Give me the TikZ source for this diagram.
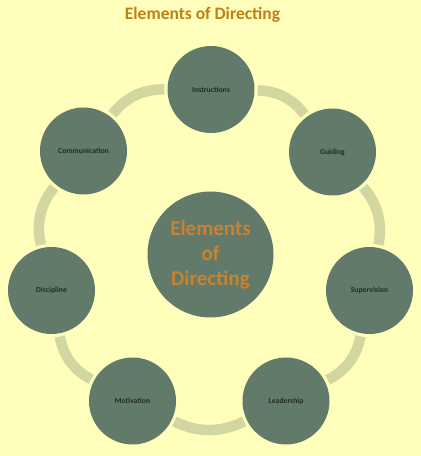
\documentclass[tikz,border=0pt]{standalone}
\usepackage{fontspec}
\setmainfont{Carlito}
\usepackage{xcolor}
\usepackage{tikz}
\usetikzlibrary{arrows.meta,positioning}
\definecolor{dirback}{HTML}{FFFFBB}
\definecolor{dirgreen}{HTML}{627A6A}
\definecolor{dirring}{HTML}{D2D7A2}
\definecolor{dirorange}{HTML}{C27E16}
\definecolor{dirtext}{HTML}{C88230}
\definecolor{dirlabel}{HTML}{222C26}
\tikzset{
  hubbox/.style={circle, fill=dirgreen, minimum size=126pt, inner sep=0pt, align=center, font=\fontsize{21}{25}\selectfont\bfseries, text=dirtext},
  elembox/.style={circle, fill=dirgreen, minimum size=87pt, inner sep=0pt, align=center, font=\fontsize{7.7}{9}\selectfont\bfseries, text=dirlabel},
  ring/.style={line width=10.5pt, draw=dirring, shorten <=3pt, shorten >=3pt, bend left=26}
}
\begin{document}
\begin{tikzpicture}[x=1pt, y=1pt]
  \fill[dirback] (0,0) rectangle (421,456);
  \useasboundingbox (0,0) rectangle (421,456);

  \node[font=\fontsize{17.5}{20}\selectfont\bfseries, text=dirorange] (T) at (202.5,441) {Elements of Directing};

  \node[elembox] (I) at (211,366.5) {Instructions};
  \node[elembox] (G) at (332.5,304) {Guiding};
  \node[elembox] (S) at (369.5,165.5) {Supervision};
  \node[elembox] (L) at (286,55) {Leadership};
  \node[elembox] (M) at (132.5,55) {Motivation};
  \node[elembox] (D) at (51.5,165.5) {Discipline};
  \node[elembox] (C) at (83.5,305) {Communication};
  \node[hubbox] (E) at (210.5,201.5) {Elements\\of\\Directing};

  \draw[ring] (I) to (G);
  \draw[ring] (G) to (S);
  \draw[ring] (S) to (L);
  \draw[ring] (L) to (M);
  \draw[ring] (M) to (D);
  \draw[ring] (D) to (C);
  \draw[ring] (C) to (I);
\end{tikzpicture}
\end{document}
